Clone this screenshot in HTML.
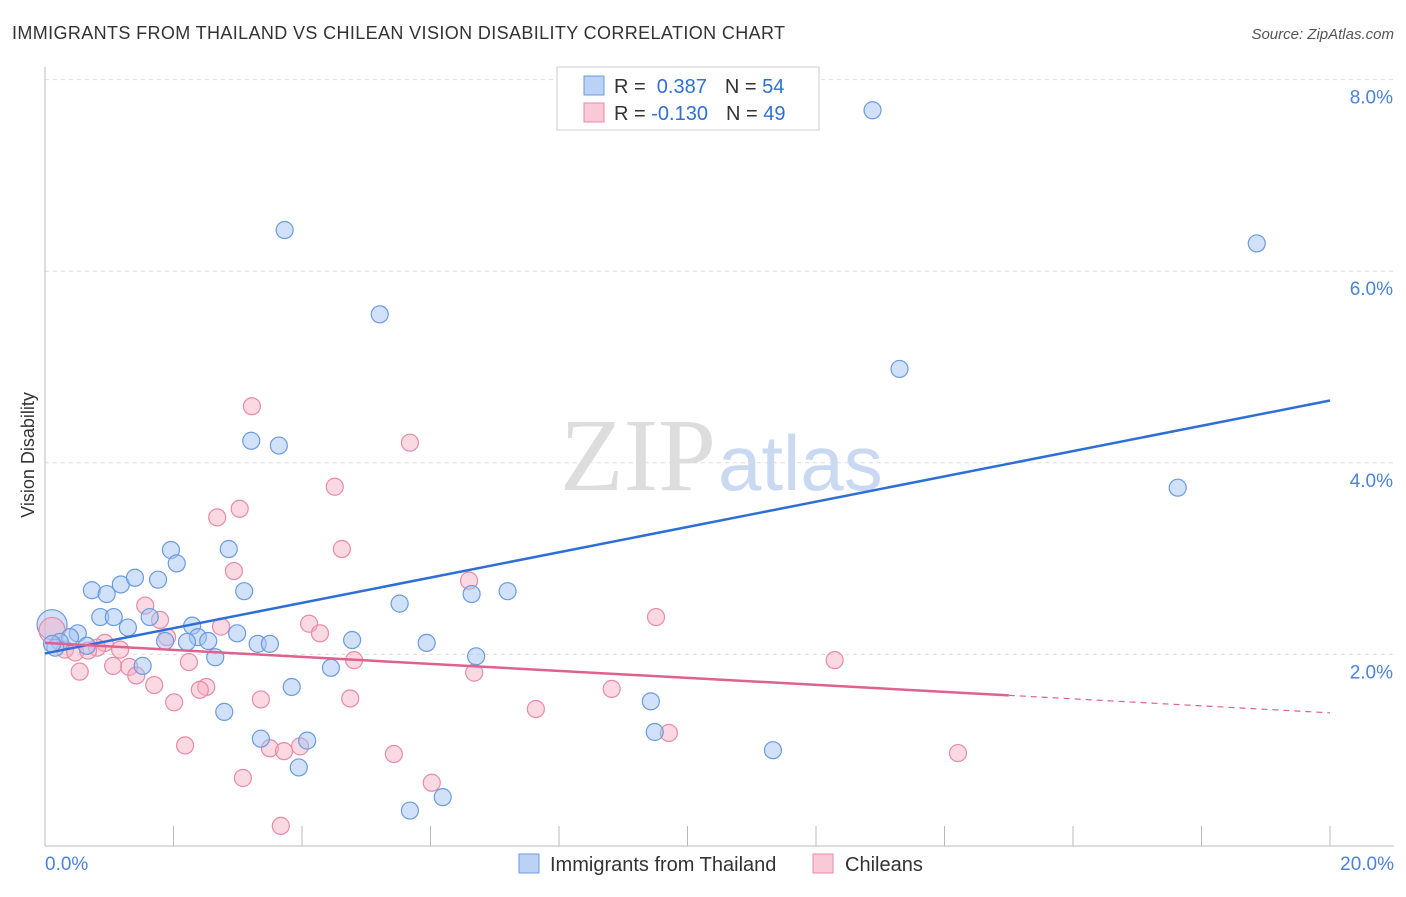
<!DOCTYPE html>
<html><head><meta charset="utf-8"><style>
body{margin:0;background:#fff;font-family:"Liberation Sans",sans-serif;}
</style></head><body>
<svg id="chart" width="1406" height="892" xmlns="http://www.w3.org/2000/svg">
<text x="12" y="39" font-size="18" fill="#333" textLength="773">IMMIGRANTS FROM THAILAND VS CHILEAN VISION DISABILITY CORRELATION CHART</text>
<text x="1394" y="39" font-size="15" fill="#555" font-style="italic" text-anchor="end">Source: ZipAtlas.com</text>
<text x="716" y="490" font-size="104" fill="#ddd" text-anchor="end" font-family="Liberation Serif,serif">ZIP</text>
<text x="718" y="490" font-size="78" fill="#c9d9f2">atlas</text>
<g id="grid"></g>
<g id="axes"></g>
<g id="pts"></g>
<g id="lines"></g>
<text transform="translate(34,455) rotate(-90)" font-size="18" fill="#333" text-anchor="middle">Vision Disability</text>
<g>
<rect x="557" y="67" width="262" height="63" fill="#fff" stroke="#ccc"/>
<rect x="584" y="76" width="20" height="19" fill="#b9d2f5" stroke="#6a9be0"/>
<rect x="584" y="103" width="20" height="19" fill="#f9c9d7" stroke="#e88aa8"/>
<text x="614" y="93" font-size="20" fill="#333">R = <tspan fill="#2f6fd6">&#160;0.387</tspan><tspan dx="18">N = </tspan><tspan fill="#2f6fd6">54</tspan></text>
<text x="614" y="120" font-size="20" fill="#333">R = <tspan fill="#2f6fd6">-0.130</tspan><tspan dx="18">N = </tspan><tspan fill="#2f6fd6">49</tspan></text>
</g>
<g>
<rect x="519" y="854" width="20" height="19" fill="#b9d2f5" stroke="#6a9be0"/>
<text x="550" y="871" font-size="20" fill="#333">Immigrants from Thailand</text>
<rect x="813" y="854" width="20" height="19" fill="#f9c9d7" stroke="#e88aa8"/>
<text x="845" y="871" font-size="20" fill="#333">Chileans</text>
</g>
</svg>
<script>
const blueX=[12.88,18.86,3.73,5.21,13.30,17.63,3.21,3.64,1.96,2.86,2.05,0.73,0.96,1.18,1.40,1.76,3.10,5.52,6.64,7.20,0.86,1.07,1.63,1.29,2.29,2.38,2.21,1.87,0.51,0.39,0.23,0.16,0.11,0.65,2.99,2.54,3.31,3.50,4.78,5.94,6.71,2.65,1.52,4.45,3.84,2.79,9.43,9.49,11.33,3.36,4.08,3.95,6.19,5.68];
const blueY=[7.68,6.29,6.43,5.55,4.98,3.74,4.23,4.18,3.09,3.10,2.95,2.67,2.63,2.73,2.80,2.78,2.66,2.53,2.63,2.66,2.39,2.39,2.39,2.28,2.30,2.18,2.13,2.14,2.22,2.18,2.13,2.07,2.11,2.09,2.22,2.14,2.11,2.11,2.15,2.12,1.98,1.97,1.88,1.86,1.66,1.40,1.51,1.19,1.00,1.12,1.10,0.82,0.51,0.37];
const pinkX=[3.22,5.68,4.51,3.03,2.68,4.62,2.94,6.60,1.56,1.79,9.51,4.11,2.74,4.28,1.90,0.93,1.17,0.81,0.31,0.47,0.67,4.81,12.29,2.24,1.06,1.31,1.42,0.54,6.68,1.70,2.51,2.41,8.82,3.36,4.75,2.01,7.64,9.71,2.18,3.50,3.97,3.72,5.43,14.21,3.08,6.02,3.67];
const pinkY=[4.59,4.21,3.75,3.52,3.43,3.10,2.87,2.77,2.51,2.36,2.39,2.32,2.29,2.22,2.18,2.12,2.05,2.07,2.05,2.02,2.04,1.94,1.94,1.92,1.88,1.87,1.78,1.82,1.81,1.68,1.66,1.63,1.64,1.53,1.54,1.50,1.43,1.18,1.05,1.02,1.04,0.99,0.96,0.97,0.71,0.66,0.21];
const bigBlue=[0.11,2.31], bigPink=[0.11,2.25];
const yTicks=[2,4,6,8];
const xTickVals=[0,2,4,6,8,10,12,14,16,18,20];
const blueTrend=[2.01,0.132], pinkTrend=[2.12,-0.0365], pinkSolidEnd=15.0;
const X0=45,X1=1330,Y0=846,PPY=95.8;
const sx=v=>X0+(v/20)*(X1-X0), sy=v=>Y0-v*PPY;
const NS='http://www.w3.org/2000/svg';
function mk(tag,attrs,parent){const e=document.createElementNS(NS,tag);for(const k in attrs)e.setAttribute(k,attrs[k]);document.getElementById(parent).appendChild(e);return e;}
yTicks.forEach(v=>{
 const l=mk('line',{x1:X0,x2:1394,y1:sy(v),y2:sy(v),stroke:'#ddd','stroke-dasharray':'4,4'},'grid');
 
 
 const t=mk('text',{x:1393,y:sy(v)+24,'font-size':19,fill:'#4a82dc','text-anchor':'end'},'grid');
 t.textContent=v.toFixed(1)+'%';
 
 
});
mk('line',{x1:X0,x2:X0,y1:67,y2:Y0,stroke:'#bbb'},'axes');
mk('line',{x1:X0,x2:1394,y1:Y0,y2:Y0,stroke:'#bbb'},'axes');
xTickVals.forEach(v=>{
 const l=mk('line',{x1:sx(v),x2:sx(v),y1:826,y2:Y0,stroke:'#bbb'},'axes');
 
 
});
[[0,'start',45],[20,'end',1394]].forEach(([v,a,x])=>{
 const t=mk('text',{x:x,y:870,'font-size':19,fill:'#4a82dc','text-anchor':a},'axes');
 t.textContent=v.toFixed(1)+'%';
 
 
});
function dot(x,y,r,blue){
 const c=mk('circle',{cx:sx(x),cy:sy(y),r:r,fill:blue?'rgba(164,196,244,0.5)':'rgba(246,170,194,0.45)',stroke:blue?'#6a9be0':'#e88aa8','stroke-width':1.2},'pts');
 
 
}
dot(bigBlue[0],bigBlue[1],15,true);dot(bigPink[0],bigPink[1],13,false);
pinkX.forEach((x,i)=>dot(x,pinkY[i],8.5,false));
blueX.forEach((x,i)=>dot(x,blueY[i],8.5,true));
const bl=mk('line',{x1:sx(0),y1:sy(blueTrend[0]),x2:sx(20),y2:sy(blueTrend[0]+20*blueTrend[1]),stroke:'#2d6fd6','stroke-width':2.5},'lines');


const pl=mk('line',{x1:sx(0),y1:sy(pinkTrend[0]),x2:sx(pinkSolidEnd),y2:sy(pinkTrend[0]+pinkSolidEnd*pinkTrend[1]),stroke:'#e0608e','stroke-width':2.5},'lines');


const pd=mk('line',{x1:sx(pinkSolidEnd),y1:sy(pinkTrend[0]+pinkSolidEnd*pinkTrend[1]),x2:sx(20),y2:sy(pinkTrend[0]+20*pinkTrend[1]),stroke:'#e0608e','stroke-width':1.2,'stroke-dasharray':'6,5'},'lines');


</script>
</body></html>
